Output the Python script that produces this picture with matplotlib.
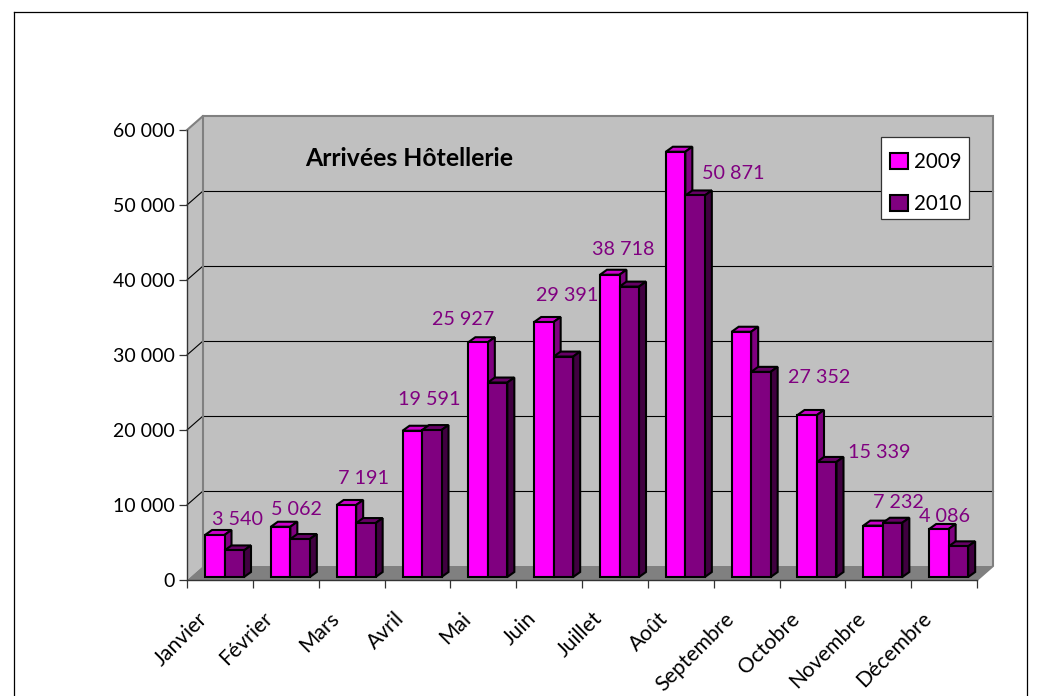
import matplotlib
matplotlib.use("Agg")
import matplotlib.pyplot as plt
from matplotlib.patches import Polygon, Patch, Rectangle
from matplotlib.lines import Line2D
from matplotlib.transforms import ScaledTranslation

plt.rcParams['font.family'] = ['Lato', 'DejaVu Sans']

months = ["Janvier", "Février", "Mars", "Avril", "Mai", "Juin", "Juillet", "Août",
          "Septembre", "Octobre", "Novembre", "Décembre"]
v2009 = [5600, 6700, 9600, 19500, 31300, 34000, 40300, 56700, 32700, 21600, 6850, 6400]
v2010 = [3540, 5062, 7191, 19591, 25927, 29391, 38718, 50871, 27352, 15339, 7232, 4086]
labels = ["3 540", "5 062", "7 191", "19 591", "25 927", "29 391", "38 718", "50 871",
          "27 352", "15 339", "7 232", "4 086"]
yticks = [0, 10000, 20000, 30000, 40000, 50000, 60000]
yticklabels = ["0", "10 000", "20 000", "30 000", "40 000", "50 000", "60 000"]
# label centres, relative to the top-centre of the 2010 bar (pixels)
label_dx = [3, -4, -2, -2, -34, 4, -6, 38, 58, 53, 6, -14]
label_dy = [31, 30, 45, 31, 63, 61, 37, 22, -6, 9, 20, 30]

W, H = 1041, 696
fig = plt.figure(figsize=(W / 100, H / 100), dpi=100, facecolor="white")
L, R, T, B = 187, 977, 130, 580
ax = fig.add_axes([L / W, 1 - B / H, (R - L) / W, (B - T) / H])
ax.set_xlim(0, 12)
ax.set_ylim(0, 60000)
ax.patch.set_visible(False)
px = 12 / (R - L)          # data units per pixel, x
py = 60000 / (B - T)       # data units per pixel, y

# page frame
for xs, ys in [((14, 1027), (12, 12)), ((14, 14), (12, 696)), ((1027, 1027), (12, 696))]:
    fig.add_artist(Line2D([x / W for x in xs], [1 - y / H for y in ys], color="black", lw=0.9))

# walls and floor
dx, dy = 16 * px, 14 * py
ax.add_patch(Polygon([(0, 0), (dx, dy), (dx, 60000 + dy), (0, 60000)], fc="#c0c0c0", ec="none",
                     zorder=1, clip_on=False))
ax.add_patch(Polygon([(dx, dy), (12 + dx, dy), (12 + dx, 60000 + dy), (dx, 60000 + dy)],
                     fc="#c0c0c0", ec="none", zorder=1, clip_on=False))
ax.add_patch(Polygon([(0, 0), (dx, dy), (12 + dx, dy), (12, 0)], fc="#808080", ec="none",
                     zorder=1.2, clip_on=False))
for v in yticks[1:-1]:
    ax.plot([0, dx], [v, v + dy], color="black", lw=0.8, zorder=1.5, clip_on=False)
    ax.plot([dx, 12 + dx], [v + dy, v + dy], color="black", lw=0.8, zorder=1.5, clip_on=False, snap=True)
ax.plot([0, dx, 12 + dx, 12 + dx, 12], [60000, 60000 + dy, 60000 + dy, dy, 0], color="#808080", lw=1.5,
        zorder=1.6, clip_on=False, solid_joinstyle="miter")
ax.plot([dx, dx], [dy, 60000 + dy], color="#808080", lw=1.5, zorder=1.6, clip_on=False)

# bars
base = 3 * py
bw = 19.5 * px
start = 18 * px
bx, by = 7 * px, 5 * py


def bar3d(i, value, x0, front, top, side, z):
    y1 = base + value
    ax.bar(x0, value, width=bw, bottom=base, align="edge", color=front, edgecolor="black",
           linewidth=1.5, zorder=z + 0.002, clip_on=False)
    ax.add_patch(Polygon([(x0, y1), (x0 + bx, y1 + by), (x0 + bw + bx, y1 + by), (x0 + bw, y1)],
                         fc=top, ec="black", lw=1.5, zorder=z, clip_on=False))
    ax.add_patch(Polygon([(x0 + bw, base), (x0 + bw + bx, base + by), (x0 + bw + bx, y1 + by), (x0 + bw, y1)],
                         fc=side, ec="black", lw=1.5, zorder=z, clip_on=False))


for i in range(12):
    z = 2 + i * 0.01
    bar3d(i, v2009[i], i + start, "#ff00ff", "#cc00cc", "#800080", z)
    bar3d(i, v2010[i], i + start + bw, "#800080", "#660066", "#400040", z + 0.003)
    ax.annotate(labels[i], xy=(i + start + 1.5 * bw, base + v2010[i]),
                xytext=(label_dx[i] * 0.72, label_dy[i] * 0.72), textcoords="offset points",
                ha="center", va="center", color="#800080", fontsize=14.2, zorder=5, annotation_clip=False)

# axes
for s in ("top", "right"):
    ax.spines[s].set_visible(False)
for s in ("left", "bottom"):
    ax.spines[s].set_color("#333333")
    ax.spines[s].set_linewidth(1.0)
    ax.spines[s].set_zorder(1.8)
ax.set_yticks(yticks, yticklabels, fontsize=14, color="black")
ax.tick_params(axis="y", length=5.8, width=0.9, color="#333333", pad=3)
ax.set_xticks(range(13), [""] * 13)
ax.tick_params(axis="x", which="major", length=5.8, width=0.9, color="#333333")
ax.set_xticks([i + 0.5 for i in range(12)], months, minor=True, rotation=45, ha="right",
              rotation_mode="anchor", fontsize=15.2, color="black")
ax.tick_params(axis="x", which="minor", length=0, pad=20.5)
shift = ScaledTranslation(-23 / 100, 0, fig.dpi_scale_trans)
for lab in ax.get_xminorticklabels():
    lab.set_transform(lab.get_transform() + shift)

ax.text((305 - L) * px, (B - 159) * py, "Arrivées Hôtellerie", fontweight="bold", fontsize=17.8,
        color="black", ha="left", va="center", zorder=6)

ax.add_patch(Rectangle(((881 - L) * px, (B - 219) * py), 88 * px, 82 * py, fc="white", ec="#333333",
                       lw=0.9, zorder=9, clip_on=False))
handles = [Patch(fc="#ff00ff", ec="black", lw=1.5, label="2009"),
           Patch(fc="#800080", ec="black", lw=1.5, label="2010")]
leg = ax.legend(handles=handles, loc="upper left", bbox_to_anchor=((881 - L) / (R - L), (B - 143) / (B - T)),
                frameon=False, fontsize=14.8,
                handlelength=0.85, handleheight=0.85, handletextpad=0.3, labelspacing=1.05,
                borderpad=0.45, borderaxespad=0)
leg.set_zorder(10)

fig.savefig("out.png", dpi=100)
